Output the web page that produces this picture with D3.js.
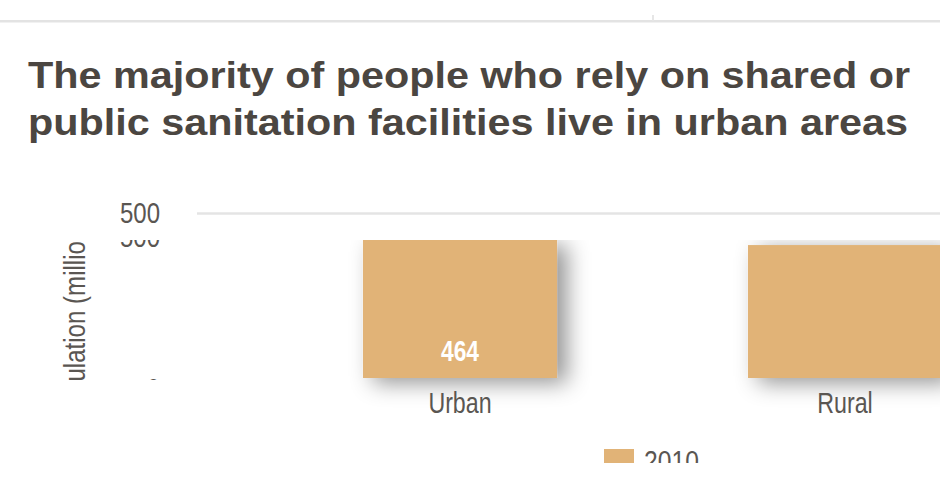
<!DOCTYPE html>
<html>
<head>
<meta charset="utf-8">
<script src="https://cdn.jsdelivr.net/npm/d3@7"></script>
<style>
  html, body { margin: 0; padding: 0; background: #fff; }
  svg { display: block; }
</style>
</head>
<body>
<svg id="chart" width="940" height="479"></svg>
<script>
// ---- data ----
const titleLines = [
  "The majority of people who rely on shared or",
  "public sanitation facilities live in urban areas"
];
const categories = ["Urban", "Rural"];
const values2010 = [464, 447];
const seriesName = "2010";
const outerTicks = [500];
const innerTicks = [0, 500];
const yAxisTitle = "Population (millions)";

// ---- layout ----
const W = 940, H = 479;
const svg = d3.select("#chart");
const textGray = "#5a5652";
const barColor = "#e1b377";
const FONT = "'Liberation Sans', Arial, Helvetica, sans-serif";

// condense text horizontally (narrow font look)
function condense(sel, factor) {
  sel.each(function () {
    const w = this.getComputedTextLength();
    d3.select(this).attr("textLength", w * factor).attr("lengthAdjust", "spacingAndGlyphs");
  });
}

const defs = svg.append("defs");
const f = defs.append("filter").attr("id", "shadow")
  .attr("x", "-30%").attr("y", "-30%").attr("width", "160%").attr("height", "160%");
f.append("feDropShadow").attr("dx", 10).attr("dy", 5).attr("stdDeviation", 11)
  .attr("flood-color", "#000").attr("flood-opacity", 0.42);

defs.append("clipPath").attr("id", "clipInner").append("rect")
  .attr("x", 0).attr("y", 240).attr("width", W).attr("height", 140);
defs.append("clipPath").attr("id", "clipBars").append("rect")
  .attr("x", 0).attr("y", 240).attr("width", W).attr("height", H - 240);
defs.append("clipPath").attr("id", "clipLegend").append("rect")
  .attr("x", 0).attr("y", 430).attr("width", W).attr("height", 33);

// top rule
svg.append("rect").attr("x", 0).attr("y", 20).attr("width", W).attr("height", 2.5).attr("fill", "#e3e3e3");
svg.append("rect").attr("x", 652).attr("y", 15).attr("width", 2).attr("height", 6).attr("fill", "#e6e6e6");

// title
svg.append("g").selectAll("text").data(titleLines).join("text")
  .attr("x", 28)
  .attr("y", (d, i) => 88 + i * 47)
  .attr("textLength", (d, i) => i === 0 ? 882 : 880)
  .attr("lengthAdjust", "spacingAndGlyphs")
  .attr("font-family", FONT)
  .attr("font-weight", "bold")
  .attr("font-size", 36)
  .attr("fill", "#4b4641")
  .text(d => d);

// outer axis (500 gridline)
const yOuter = d3.scaleLinear().domain([0, 500]).range([360, 213]);
const gOuter = svg.append("g").attr("transform", "translate(197,0)")
  .call(d3.axisLeft(yOuter).tickValues(outerTicks).tickSize(-(W - 197)).tickPadding(37));
gOuter.select(".domain").remove();
gOuter.selectAll(".tick line").attr("stroke", "#e4e4e4").attr("stroke-width", 2.5);
gOuter.selectAll(".tick text").attr("font-family", FONT).attr("font-size", 30).attr("fill", textGray)
  .call(condense, 0.8);

// inner (clipped) panel
const inner = svg.append("g").attr("clip-path", "url(#clipInner)");
const yTick = d3.scaleLinear().domain([0, 500]).range([389, 237]);
const gInner = inner.append("g").attr("transform", "translate(197,0)")
  .call(d3.axisLeft(yTick).tickValues(innerTicks).tickSize(0).tickPadding(37));
gInner.select(".domain").remove();
gInner.selectAll(".tick text").attr("font-family", FONT).attr("font-size", 30).attr("fill", textGray)
  .call(condense, 0.8);

inner.append("text")
  .attr("transform", "translate(85,316) rotate(-90)")
  .attr("text-anchor", "middle")
  .attr("font-family", FONT)
  .attr("font-size", 29)
  .attr("fill", textGray)
  .text(yAxisTitle)
  .call(condense, 0.83);

// bars
const x = d3.scaleBand().domain(categories).range([172, 1133]).padding(0.496);
const yBar = d3.scaleLinear().domain([0, 500]).range([378, 229.3]);
const gBars = svg.append("g").attr("clip-path", "url(#clipBars)");
gBars.append("g").attr("filter", "url(#shadow)").selectAll("rect")
  .data(values2010).join("rect")
  .attr("x", (d, i) => x(categories[i]))
  .attr("y", d => yBar(d))
  .attr("width", x.bandwidth())
  .attr("height", d => yBar(0) - yBar(d))
  .attr("fill", barColor);

// value label (Urban)
svg.append("text")
  .attr("x", x(categories[0]) + x.bandwidth() / 2)
  .attr("y", 361)
  .attr("text-anchor", "middle")
  .attr("font-family", FONT)
  .attr("font-weight", "bold")
  .attr("font-size", 30)
  .attr("fill", "#fff")
  .text(values2010[0])
  .call(condense, 0.76);

// category labels
svg.append("g").selectAll("text").data(categories).join("text")
  .attr("x", d => x(d) + x.bandwidth() / 2)
  .attr("y", 413)
  .attr("text-anchor", "middle")
  .attr("font-family", FONT)
  .attr("font-size", 29)
  .attr("fill", textGray)
  .text(d => d)
  .call(condense, 0.8);

// legend
const gLeg = svg.append("g").attr("clip-path", "url(#clipLegend)");
gLeg.append("rect").attr("x", 604).attr("y", 449).attr("width", 30).attr("height", 20).attr("fill", barColor);
gLeg.append("text")
  .attr("x", 644).attr("y", 471)
  .attr("font-family", FONT)
  .attr("font-size", 29)
  .attr("fill", textGray)
  .text(seriesName)
  .call(condense, 0.85);
</script>
</body>
</html>
